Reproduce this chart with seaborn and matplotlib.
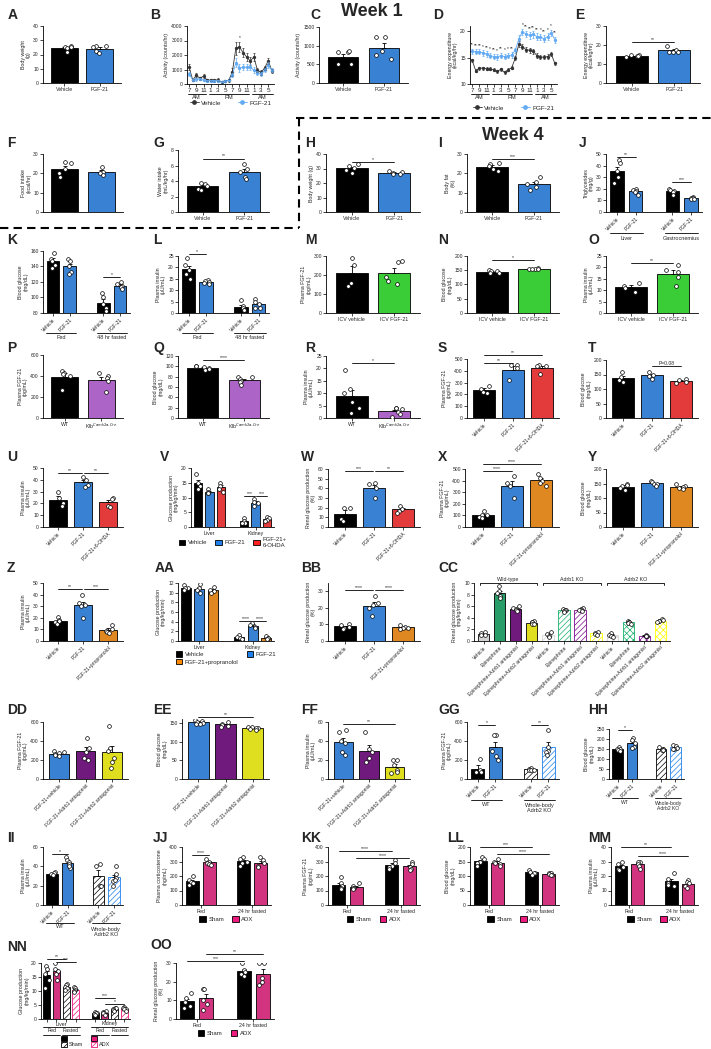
import numpy as np
import pandas as pd
import matplotlib
matplotlib.use("Agg")
import matplotlib.pyplot as plt
import matplotlib.transforms as mtransforms
from matplotlib.patches import Patch
from matplotlib.lines import Line2D
from matplotlib import font_manager
import seaborn as sns

# -------------------
# Data
hour_ticks = ['7', '9', '11', '1', '3', '5', '7', '9', '11', '1', '3', '5']
B_vehicle = [1150, 270, 610, 390, 545, 270, 270, 250, 300, 115, 230, 250,
             820, 2480, 2550, 2160, 1860, 1590, 1860, 950, 800, 1110, 1600, 910]
B_vehicle_se = [200, 80, 150, 100, 120, 80, 80, 80, 90, 60, 80, 80,
                250, 450, 350, 300, 250, 300, 300, 150, 150, 150, 200, 150]
B_fgf = [680, 270, 340, 340, 270, 230, 230, 220, 210, 170, 220, 250,
         600, 1480, 1110, 1160, 1160, 1180, 950, 770, 680, 950, 1300, 950]
B_fgf_se = [150, 60, 100, 80, 80, 60, 60, 50, 50, 40, 50, 60,
            150, 300, 250, 200, 200, 200, 200, 150, 150, 150, 200, 150]
B_stars = ['', '', '', '', '', '', '', '', '', '', '', '',
           '', '', '*', '', '', '', '', '', '', '', '', '']
D_vehicle = [14.5, 12.5, 13.0, 13.0, 12.9, 12.9, 12.7, 12.4, 12.8, 12.2, 12.7, 13.1,
             14.9, 17.6, 17.1, 16.5, 16.4, 16.2, 15.4, 15.1, 15.1, 15.2, 15.7, 13.9]
D_vehicle_se = [0.3, 0.3, 0.3, 0.3, 0.3, 0.3, 0.3, 0.3, 0.3, 0.3, 0.3, 0.3,
                0.4, 0.5, 0.5, 0.5, 0.5, 0.5, 0.5, 0.4, 0.4, 0.4, 0.4, 0.3]
D_fgf = [16.2, 16.1, 16.1, 15.9, 15.7, 15.4, 15.2, 15.1, 15.4, 15.2, 15.4, 15.5,
         16.4, 18.6, 19.9, 19.5, 19.2, 19.4, 19.0, 18.9, 18.6, 19.0, 19.7, 18.4]
D_fgf_se = [0.5, 0.5, 0.5, 0.5, 0.5, 0.5, 0.5, 0.5, 0.5, 0.5, 0.5, 0.5,
            0.5, 0.6, 0.6, 0.6, 0.6, 0.6, 0.6, 0.6, 0.6, 0.6, 0.6, 0.6]
D_stars = ['**', '**', '**', '*', '**', '*', '**', '*', '**', '*', '*', '**',
           '', '', '*', '**', '**', '**', '**', '*', '**', '*', '*', '**']

veh_fgf = ['Vehicle', 'FGF-21']
icv = ['ICV vehicle', 'ICV FGF-21']
wt_klb = ['WT', r'Klb$^{Camk2a\text{-}Cre}$']
ohda = ['Vehicle', 'FGF-21', 'FGF-21+6-OHDA']
prop = ['Vehicle', 'FGF-21', 'FGF-21+propranolol']
cc_labels = ['Vehicle', 'Epinephrine', 'Epinephrine+Adrb1 antagonist',
             'Epinephrine+Adrb2 antagonist']
ant = ['FGF-21+vehicle', 'FGF-21+Adrb1 antagonist', 'FGF-21+Adrb2 antagonist']

A_vals = [[26, 25.5, 25, 24.5, 21.5], [26, 26, 25.5, 22.5, 21]]
C_vals = [[840, 820, 850, 520, 500], [1240, 1230, 870, 760, 650]]
E_vals = [[14.8, 14.5, 14.2, 14.0, 13.8], [19.5, 17.5, 16.5, 16.2, 16.3]]
F_vals = [[26, 25.2, 22.5, 20, 18], [23.5, 20.8, 20.5, 20.2, 19]]
G_vals = [[3.7, 3.6, 3.4, 3.0, 2.8], [6.2, 5.6, 5.2, 4.5, 4.2]]
H_vals = [[33, 31.5, 30.5, 29, 27], [28, 27.5, 27, 26.5, 26.5]]
I_vals = [[25.5, 25, 24, 22, 21], [18, 15.5, 14.5, 13, 11.5]]
J_vals = [[45, 42, 35, 30, 25], [20, 19, 18, 17, 15], None,
          [19.5, 19, 18, 17, 15], [13, 12.5, 12, 11.5, 11]]
K_vals = [[158, 150, 147, 142, 138], [150, 147, 140, 133, 130], None,
          [106, 100, 92, 86, 82], [120, 118, 115, 113, 111]]
L_vals = [[24, 21, 19, 17, 15], [14.5, 14, 13.5, 13, 12.5], None,
          [5.5, 3, 2, 1.5, 1.5], [6, 5, 4, 2, 2]]
M_vals = [[290, 250, 160, 140], [275, 270, 190, 170, 150]]
N_vals = [[150, 148, 146, 142, 140], [158, 156, 155, 154, 153]]
O_vals = [[13, 12, 11, 9], [21, 19, 18, 16, 12]]
P_vals = [[450, 430, 420, 400, 270], [430, 400, 380, 350, 250]]
Q_vals = [[101, 100, 98, 97, 95, 93], [80, 79, 76, 72, 69, 64]]
R_vals = [[19.5, 11.5, 10, 6.5, 4, 2], [4, 4, 3.5, 2.5, 1.5, 0.5]]
S_vals = [[270, 250, 220, 210], [450, 450, 420, 320], [450, 440, 440, 370]]
T_vals = [[160, 140, 130, 125], [160, 150, 145, 135], [135, 130, 125, 120]]
U_vals = [[30, 25, 20, 18], [42, 40, 36, 34], [25, 24, 18, 17]]
V_vals = [[18, 15, 14, 13], [13, 12, 11.5, 11.5], [15, 14, 13, 12], None,
          [3, 2, 1.5, 1.5], [9.5, 8.5, 8, 7], [3.5, 3, 2.5, 2]]
W_vals = [[20, 20, 8, 6], [46, 45, 40, 30], [22, 19, 17, 15]]
X_vals = [[140, 105, 100, 90, 80], [440, 380, 350, 250], [460, 420, 400, 380, 350]]
Y_vals = [[150, 145, 140, 135, 128], [158, 155, 150, 148, 140], [148, 140, 137, 135, 130]]
Z_vals = [[21, 18, 17, 16, 15], [40, 33, 31, 30, 20], [14, 10, 9, 8, 7]]
AA_vals = [[11.5, 11, 11, 10.5], [11.8, 11, 10.5, 10], [11.2, 10.6, 10.3, 10], None,
           [1.2, 0.9, 0.7, 0.5], [3.8, 3.3, 3, 2.7], [1, 0.7, 0.6, 0.5]]
BB_vals = [[10.5, 9.5, 8.5, 8, 7.5], [27, 23, 22, 20, 15], [9.5, 8.5, 8, 7.8, 7.2]]
CC_vals = [[1.5, 1.3, 1.1, 1.0], [9.5, 8.6, 8.3, 7.8, 7.5], [6.0, 5.7, 5.5, 5.3, 5.2],
           [3.5, 3.3, 3.2, 3.0, 2.9],
           [1.6, 1.2, 0.9, 0.7], [5.6, 5.4, 5.3, 5.2, 5.0], [5.7, 5.5, 5.4, 5.3, 5.1],
           [1.6, 1.4, 1.2, 1.0],
           [1.3, 1.1, 0.9, 0.7], [3.4, 3.3, 3.2, 3.1, 3.0], [1.1, 0.9, 0.8, 0.8],
           [3.8, 3.6, 3.5, 3.4, 3.2]]
DD_vals = [[290, 280, 270, 260, 250, 240], [430, 330, 280, 220, 200],
           [560, 330, 300, 220, 180, 120]]
EE_vals = [[158, 155, 152, 150, 148, 147], [152, 148, 145, 142, 140],
           [140, 138, 136, 135, 133, 132]]
FF_vals = [[52, 50, 40, 38, 25, 28], [50, 32, 28, 22, 18], [20, 20, 15, 10, 6, 7]]
GG_vals = [[210, 90, 70, 70], [460, 460, 300, 240, 200], None,
           [120, 110, 100, 95, 90], [520, 340, 300, 280, 250]]
HH_vals = [[160, 150, 148, 145, 140], [205, 195, 180, 160, 155], None,
           [158, 152, 150, 145, 145], [168, 165, 157, 150, 148]]
II_vals = [[34, 33, 32, 31], [50, 47, 44, 42, 38, 40], None,
           [42, 40, 20, 20], [40, 32, 28, 25, 20, 26]]
JJ_vals = [[200, 170, 160, 150, 135], [320, 300, 290, 285, 275], None,
           [330, 320, 300, 290, 270], [330, 310, 290, 270, 260]]
KK_vals = [[190, 150, 130, 120, 110], [150, 130, 120, 115, 110], None,
           [310, 290, 270, 260, 250], [300, 280, 260, 250, 240]]
LL_vals = [[165, 160, 150, 145, 135], [160, 150, 145, 140, 135], None,
           [120, 115, 112, 110, 105], [112, 110, 107, 105, 103]]
MM_vals = [[30, 28, 26, 25, 24], [30, 30, 28, 27, 25], None,
           [22, 18, 15, 14, 13], [17, 16, 15, 13, 12]]
NN_vals = [[19, 18, 16, 14, 11], [20, 18, 17, 16, 14], [12.5, 12, 11.5, 11, 10.5],
           [11.5, 11, 10.5, 10, 9.5], None,
           [2.5, 2.2, 2, 1.8, 1.5], [3, 2.5, 2, 2, 1.5], [4, 3.8, 3.5, 3.2, 3],
           [4.2, 3.8, 3.6, 3.4, 3]]
OO_vals = [[14, 11, 9, 7, 6], [16, 16, 10, 8, 5], None,
           [30, 26, 25, 24, 23], [30, 30, 22, 20, 18]]

# -------------------
# Style
sns.set_style("ticks")
fnames = {f.name for f in font_manager.fontManager.ttflist}
narrow = 'Liberation Sans Narrow' if 'Liberation Sans Narrow' in fnames else 'Liberation Sans'
plt.rcParams['font.family'] = ['Liberation Sans', 'DejaVu Sans']
plt.rcParams['axes.linewidth'] = 0.6
plt.rcParams['hatch.linewidth'] = 0.5
plt.rcParams['axes.edgecolor'] = 'black'
np.random.seed(4)

BLACK = '#000000'
BLUE = '#1f80ec'
LBLUE = '#62aaf4'
GREEN = '#22e61f'
PURP = '#b355d6'
RED = '#ff1f1f'
ORNG = '#ff8a00'
PINK = '#ec1a7f'
GRAY = '#d4d4d4'
EGRN = '#16b06a'
DPURP = '#7d0a8e'
YEL = '#ffff00'

W, H = 711, 1049
fig = plt.figure(figsize=(W / 100, H / 100), dpi=100)


def new_panel(label, lx, ly, box):
    x0, y0, x1, y1 = box
    ax = fig.add_axes([x0 / W, 1 - y1 / H, (x1 - x0) / W, (y1 - y0) / H])
    fig.text(lx / W, 1 - ly / H, label, fontsize=10, fontweight='bold',
             family=narrow, ha='left', va='center')
    return ax


def style(ax, ylim, yticks, ylabel):
    ax.set_ylim(*ylim)
    ax.set_yticks(yticks)
    ax.set_ylabel(ylabel, fontsize=3.8, labelpad=1.5, linespacing=1.1)
    ax.set_xlabel('')
    sns.despine(ax=ax)
    ax.tick_params(axis='both', length=2, width=0.6, labelsize=3.6, pad=1)


def bar_panel(ax, vals, colors, ylim, yticks, ylabel, xlabels=None, xticks=None,
              rot=0, hatches=None, width=0.75):
    cats = [f"b{i}" for i in range(len(vals))]
    rows = [(cats[i], v) for i, g in enumerate(vals) if g is not None for v in g]
    df = pd.DataFrame(rows, columns=['cat', 'val'])
    present = [c for c, g in zip(cats, vals) if g is not None]
    pal = {cats[i]: colors[i] for i in range(len(vals)) if vals[i] is not None}
    sns.barplot(data=df, x='cat', y='val', hue='cat', order=cats, hue_order=present,
                palette=pal, errorbar=None, width=width, edgecolor='k', linewidth=0.6,
                legend=False, ax=ax, zorder=2)
    if hatches:
        for p in ax.patches:
            i = int(round(p.get_x() + p.get_width() / 2))
            if hatches[i]:
                p.set_facecolor('white')
                p.set_edgecolor(colors[i])
                p.set_hatch(hatches[i])
    stats = df.groupby('cat')['val'].agg(['mean', 'sem'])
    for c in present:
        m, s = stats.loc[c, 'mean'], stats.loc[c, 'sem']
        ax.errorbar(cats.index(c), m, yerr=[[0], [s]], fmt='none', ecolor='k',
                    elinewidth=0.6, capsize=1.6, capthick=0.6, zorder=3)
    sns.stripplot(data=df, x='cat', y='val', order=cats, color='white', edgecolor='black',
                  linewidth=0.5, size=2.7, jitter=0.2, ax=ax, zorder=4)
    ax.set_xlim(-0.6, len(vals) - 0.4)
    style(ax, ylim, yticks, ylabel)
    if xlabels is None:
        ax.set_xticks([])
    else:
        if xticks is None:
            xticks = [i for i in range(len(vals)) if vals[i] is not None]
        ax.set_xticks(xticks)
        if rot:
            ax.set_xticklabels(xlabels, rotation=rot, ha='right', rotation_mode='anchor',
                               fontsize=3.6)
        else:
            ax.set_xticklabels(xlabels, fontsize=3.8)


def sig(ax, x0, x1, y, txt):
    ax.plot([x0, x1], [y, y], color='k', lw=0.6, clip_on=False)
    ax.text((x0 + x1) / 2, y, txt, ha='center', va='bottom', fontsize=3.6, clip_on=False)


def under(ax, x0, x1, txt, dy_line, dy_txt, fs=4.0):
    trans = mtransforms.blended_transform_factory(ax.transData, ax.transAxes)
    h = ax.get_position().height * H
    if dy_line is not None:
        ax.plot([x0, x1], [-dy_line / h] * 2, transform=trans, color='k', lw=0.6,
                clip_on=False)
    ax.text((x0 + x1) / 2, -dy_txt / h, txt, transform=trans, ha='center', va='center',
            fontsize=fs, linespacing=1.1)


def bracket(ax, x0, x1, y, txt, tick):
    ax.plot([x0, x0, x1, x1], [y - tick, y, y, y - tick], color='k', lw=0.6, clip_on=False)
    ax.text((x0 + x1) / 2, y + tick * 0.6, txt, ha='center', va='bottom', fontsize=3.8)


def sq_legend(ax, labels, handles, dy_px, ncol, fs=4.3, hh=1.1, ls=0.3):
    h = ax.get_position().height * H
    ax.legend(handles, labels, loc='upper center', bbox_to_anchor=(0.5, -dy_px / h),
              ncol=ncol, frameon=False, fontsize=fs, handlelength=1.1, handleheight=hh,
              columnspacing=1.4, handletextpad=0.4, borderaxespad=0, borderpad=0,
              labelspacing=ls)


def sq(c, hatch=None):
    if hatch:
        return Patch(facecolor='white', edgecolor=c, hatch=hatch, lw=0.6)
    return Patch(facecolor=c, edgecolor='k', lw=0.6)


def line_panel(ax, veh, veh_se, fgf, fgf_se, stars_y, stars, ylim, yticks, ylabel, leg_dy):
    x = np.arange(len(veh))
    df = pd.DataFrame({'hour': np.concatenate([x, x]), 'val': veh + fgf,
                       'grp': ['Vehicle'] * len(veh) + ['FGF-21'] * len(fgf)})
    sns.lineplot(data=df, x='hour', y='val', hue='grp',
                 palette={'Vehicle': '#333333', 'FGF-21': LBLUE}, marker='o',
                 markersize=2.4, markeredgewidth=0, linewidth=0.6, ax=ax, legend=False)
    ax.errorbar(x, veh, yerr=veh_se, fmt='none', ecolor='#333333', elinewidth=0.5,
                capsize=1, capthick=0.5)
    ax.errorbar(x, fgf, yerr=fgf_se, fmt='none', ecolor=LBLUE, elinewidth=0.5,
                capsize=1, capthick=0.5)
    for i, s in enumerate(stars):
        if s:
            ax.text(i, stars_y[i], s, ha='center', va='bottom', fontsize=3.4)
    ax.set_xlim(-0.6, len(veh) - 0.4)
    style(ax, ylim, yticks, ylabel)
    ax.set_xticks(range(0, len(veh), 2))
    ax.set_xticklabels(hour_ticks, fontsize=4.6)
    under(ax, -0.4, 4.6, 'AM', 10, 13.5, fs=4.2)
    under(ax, 5.4, 16.6, 'PM', 10, 13.5, fs=4.2)
    under(ax, 17.4, 23.4, 'AM', 10, 13.5, fs=4.2)
    hl = [Line2D([], [], color='#333333', marker='o', ms=2.4, lw=0.6),
          Line2D([], [], color=LBLUE, marker='o', ms=2.4, lw=0.6)]
    h = ax.get_position().height * H
    ax.legend(hl, ['Vehicle', 'FGF-21'], loc='center', bbox_to_anchor=(0.5, -leg_dy / h),
              ncol=2, frameon=False, fontsize=4.6, handlelength=1.4, columnspacing=2.5,
              handletextpad=0.4, borderaxespad=0)


# -------------------
# Week 1
ax = new_panel('A', 8, 15, (43, 26, 121, 83))
bar_panel(ax, A_vals, [BLACK, BLUE], (0, 40), [0, 10, 20, 30, 40], 'Body weight\n(g)', veh_fgf)

ax = new_panel('B', 150, 15, (187, 26, 274, 84))
by = [max(a + b, c + d) + 120 for a, b, c, d in zip(B_vehicle, B_vehicle_se, B_fgf, B_fgf_se)]
line_panel(ax, B_vehicle, B_vehicle_se, B_fgf, B_fgf_se, by, B_stars, (0, 4000),
           [0, 1000, 2000, 3000, 4000], 'Activity (counts/hr)', 19)

ax = new_panel('C', 310, 15, (319, 27, 408, 83))
bar_panel(ax, C_vals, [BLACK, BLUE], (0, 1500), [0, 500, 1000, 1500],
          'Activity (counts/hr)', veh_fgf)

ax = new_panel('D', 433, 15, (470, 26, 557, 84))
dy = [max(a + b, c + d) + 0.3 for a, b, c, d in zip(D_vehicle, D_vehicle_se, D_fgf, D_fgf_se)]
line_panel(ax, D_vehicle, D_vehicle_se, D_fgf, D_fgf_se, dy, D_stars, (10, 21),
           [10, 15, 20], 'Energy expenditure\n(kcal/kg/hr)', 24)

ax = new_panel('E', 575, 15, (606, 26, 700, 83))
bar_panel(ax, E_vals, [BLACK, BLUE], (0, 30), [0, 10, 20, 30],
          'Energy expenditure\n(kcal/kg/hr)', veh_fgf)
sig(ax, 0, 1, 21.5, '**')

ax = new_panel('F', 7, 143, (43, 154, 123, 212))
bar_panel(ax, F_vals, [BLACK, BLUE], (0, 30), [0, 10, 20, 30], 'Food intake\n(kcal/hr)')

ax = new_panel('G', 153, 143, (178, 150, 269, 212))
bar_panel(ax, G_vals, [BLACK, BLUE], (0, 8), [0, 2, 4, 6, 8], 'Water intake\n(mL/kg/hr)',
          veh_fgf)
sig(ax, 0, 1, 6.9, '**')

# -------------------
# Week 4
ax = new_panel('H', 305, 143, (326, 154, 420, 212))
bar_panel(ax, H_vals, [BLACK, BLUE], (0, 40), [0, 10, 20, 30, 40], 'Body weight (g)', veh_fgf)
sig(ax, 0, 1, 34.5, '*')

ax = new_panel('I', 438, 143, (467, 154, 559, 212))
bar_panel(ax, I_vals, [BLACK, BLUE], (0, 30), [0, 10, 20, 30], 'Body fat\n(%)', veh_fgf)
sig(ax, 0, 1, 27.5, '***')

ax = new_panel('J', 579, 143, (606, 154, 702, 212))
bar_panel(ax, J_vals, [BLACK, BLUE, None, BLACK, BLUE], (0, 50), [0, 10, 20, 30, 40, 50],
          'Triglycerides\n(mg/g)', veh_fgf * 2, rot=45)
sig(ax, 0, 1, 47, '**')
sig(ax, 3, 4, 26, '***')
under(ax, -0.4, 1.4, 'Liver', 21, 26)
under(ax, 2.6, 4.4, 'Gastrocnemius', 21, 26)

ax = new_panel('K', 7, 240, (43, 251, 130, 313))
bar_panel(ax, K_vals, [BLACK, BLUE, None, BLACK, BLUE], (80, 160), [80, 100, 120, 140, 160],
          'Blood glucose\n(mg/dL)', veh_fgf * 2, rot=45)
sig(ax, 3, 4, 127, '*')
under(ax, -0.4, 1.4, 'Fed', 20, 25)
under(ax, 2.6, 4.4, '48 hr fasted', 20, 25)

ax = new_panel('L', 153, 240, (178, 256, 269, 313))
bar_panel(ax, L_vals, [BLACK, BLUE, None, BLACK, BLUE], (0, 25), [0, 5, 10, 15, 20, 25],
          'Plasma insulin\n(μU/mL)', veh_fgf * 2, rot=45)
sig(ax, 0, 1, 26, '*')
under(ax, -0.4, 1.4, 'Fed', 20, 25)
under(ax, 2.6, 4.4, '48 hr fasted', 20, 25)

ax = new_panel('M', 305, 240, (326, 256, 420, 313))
bar_panel(ax, M_vals, [BLACK, GREEN], (0, 300), [0, 100, 200, 300],
          'Plasma FGF-21\n(pg/mL)', icv)

ax = new_panel('N', 438, 240, (467, 256, 559, 313))
bar_panel(ax, N_vals, [BLACK, GREEN], (0, 200), [0, 50, 100, 150, 200],
          'Blood glucose\n(mg/dL)', icv)
sig(ax, 0, 1, 185, '*')

ax = new_panel('O', 588, 240, (606, 256, 698, 313))
bar_panel(ax, O_vals, [BLACK, GREEN], (0, 25), [0, 5, 10, 15, 20, 25],
          'Plasma insulin\n(μU/mL)', icv)
sig(ax, 0, 1, 22, '**')

ax = new_panel('P', 7, 348, (43, 355, 123, 418))
bar_panel(ax, P_vals, [BLACK, PURP], (0, 600), [0, 200, 400, 600],
          'Plasma FGF-21\n(pg/mL)', wt_klb)

ax = new_panel('Q', 153, 348, (178, 356, 269, 418))
bar_panel(ax, Q_vals, [BLACK, PURP], (0, 120), [0, 20, 40, 60, 80, 100, 120],
          'Blood glucose\n(mg/dL)', wt_klb)
sig(ax, 0, 1, 112, '****')

ax = new_panel('R', 305, 348, (326, 356, 420, 418))
bar_panel(ax, R_vals, [BLACK, PURP], (0, 25), [0, 5, 10, 15, 20, 25],
          'Plasma insulin\n(μU/mL)', wt_klb)
sig(ax, 0, 1, 22, '*')

ax = new_panel('S', 438, 348, (467, 359, 559, 418))
bar_panel(ax, S_vals, [BLACK, BLUE, RED], (0, 500), [0, 100, 200, 300, 400, 500],
          'Plasma FGF-21\n(pg/mL)', ohda, rot=45)
sig(ax, 0, 1, 470, '**')
sig(ax, 0, 2, 530, '**')

ax = new_panel('T', 588, 348, (606, 360, 698, 418))
bar_panel(ax, T_vals, [BLACK, BLUE, RED], (0, 200), [0, 50, 100, 150, 200],
          'Blood glucose\n(mg/dL)', ohda, rot=45)
sig(ax, 1, 2, 178, 'P=0.08')

ax = new_panel('U', 7, 457, (43, 468, 123, 527))
bar_panel(ax, U_vals, [BLACK, BLUE, RED], (0, 50), [0, 10, 20, 30, 40, 50],
          'Plasma insulin\n(μU/mL)', ohda, rot=45)
sig(ax, 0, 0.95, 46, '**')
sig(ax, 1.05, 2, 46, '**')

ax = new_panel('V', 160, 457, (191, 468, 274, 527))
bar_panel(ax, V_vals, [BLACK, BLUE, RED, None, BLACK, BLUE, RED], (0, 20), [0, 5, 10, 15, 20],
          'Glucose production\n(mg/kg/min)', ['Liver', 'Kidney'], xticks=[1, 5])
sig(ax, 4, 4.95, 10.5, '***')
sig(ax, 5.05, 6, 10.5, '***')
sq_legend(ax, ['Vehicle', 'FGF-21', 'FGF-21+\n6-OHDA'], [sq(BLACK), sq(BLUE), sq(RED)], 10, 3)

ax = new_panel('W', 301, 457, (328, 469, 420, 527))
bar_panel(ax, W_vals, [BLACK, BLUE, RED], (0, 60), [0, 10, 20, 30, 40, 50, 60],
          'Renal glucose production\n(%)', ohda, rot=45)
sig(ax, 0, 0.95, 58, '***')
sig(ax, 1.05, 2, 58, '**')

ax = new_panel('X', 438, 457, (465, 469, 559, 527))
bar_panel(ax, X_vals, [BLACK, BLUE, ORNG], (0, 500), [0, 100, 200, 300, 400, 500],
          'Plasma FGF-21\n(pg/mL)', prop, rot=45)
sig(ax, 0, 1, 480, '****')
sig(ax, 0, 2, 540, '****')

ax = new_panel('Y', 588, 457, (606, 469, 698, 527))
bar_panel(ax, Y_vals, [BLACK, BLUE, ORNG], (0, 200), [0, 50, 100, 150, 200],
          'Blood glucose\n(mg/dL)', prop, rot=45)

ax = new_panel('Z', 7, 568, (43, 583, 123, 641))
bar_panel(ax, Z_vals, [BLACK, BLUE, ORNG], (0, 50), [0, 10, 20, 30, 40, 50],
          'Plasma insulin\n(μU/mL)', prop, rot=45)
sig(ax, 0, 0.95, 45, '**')
sig(ax, 1.05, 2, 45, '***')

ax = new_panel('AA', 155, 568, (178, 583, 274, 641))
bar_panel(ax, AA_vals, [BLACK, BLUE, ORNG, None, BLACK, BLUE, ORNG], (0, 12),
          [0, 2, 4, 6, 8, 10, 12], 'Glucose production\n(mg/kg/min)', ['Liver', 'Kidney'],
          xticks=[1, 5])
sig(ax, 4, 4.95, 4.2, '****')
sig(ax, 5.05, 6, 4.2, '****')
sq_legend(ax, ['Vehicle', 'FGF-21+propranolol', 'FGF-21'],
          [sq(BLACK), sq(ORNG), sq(BLUE)], 10, 2)

ax = new_panel('BB', 301, 568, (328, 583, 420, 641))
bar_panel(ax, BB_vals, [BLACK, BLUE, ORNG], (0, 35), [0, 10, 20, 30],
          'Renal glucose production\n(%)', prop, rot=45)
sig(ax, 0, 0.95, 31, '****')
sig(ax, 1.05, 2, 31, '****')

ax = new_panel('CC', 438, 568, (474, 583, 670, 641))
cc_colors = [GRAY, EGRN, DPURP, YEL] * 3
cc_hatch = [None] * 4 + ['//////'] * 4 + ['xxxxx'] * 4
bar_panel(ax, CC_vals, cc_colors, (0, 10), [0, 2, 4, 6, 8, 10],
          'Renal glucose production\n(mg/kg/min)', cc_labels * 3, rot=45, hatches=cc_hatch,
          width=0.7)
bracket(ax, -0.2, 3.3, 10, 'Wild-type', 0.4)
bracket(ax, 3.7, 7.3, 10, 'Adrb1 KO', 0.4)
bracket(ax, 7.7, 11.2, 10, 'Adrb2 KO', 0.4)

ax = new_panel('DD', 7, 710, (43, 722, 128, 779))
bar_panel(ax, DD_vals, [BLUE, DPURP, YEL], (0, 600), [0, 200, 400, 600],
          'Plasma FGF-21\n(pg/mL)', ant, rot=45)

ax = new_panel('EE', 153, 710, (182, 719, 269, 779))
bar_panel(ax, EE_vals, [BLUE, DPURP, YEL], (0, 160), [0, 50, 100, 150],
          'Blood glucose\n(mg/dL)', ant, rot=45)
sig(ax, 0, 2, 165, '**')

ax = new_panel('FF', 301, 710, (328, 722, 410, 779))
bar_panel(ax, FF_vals, [BLUE, DPURP, YEL], (0, 60), [0, 20, 40, 60],
          'Plasma insulin\n(μU/mL)', ant, rot=45)
sig(ax, 0, 2, 58, '**')

ko_colors = [BLACK, BLUE, None, BLACK, BLUE]
ko_hatch = [None, None, None, '//////', '//////']

ax = new_panel('GG', 438, 710, (467, 722, 559, 779))
bar_panel(ax, GG_vals, ko_colors, (0, 600), [0, 200, 400, 600], 'Plasma FGF-21\n(pg/mL)',
          veh_fgf * 2, rot=45, hatches=ko_hatch)
sig(ax, 0, 1, 570, '*')
sig(ax, 3, 4, 570, '**')
under(ax, -0.4, 1.4, 'WT', 21, 25)
under(ax, 2.6, 4.4, 'Whole-body\nAdrb2 KO', 21, 29)

ax = new_panel('HH', 588, 710, (609, 729, 684, 779))
bar_panel(ax, HH_vals, ko_colors, (0, 250), [0, 50, 100, 150, 200, 250],
          'Blood glucose\n(mg/dL)', veh_fgf * 2, rot=45, hatches=ko_hatch)
sig(ax, 0, 1, 245, '*')
under(ax, -0.4, 1.4, 'WT', 19, 23, fs=3.6)
under(ax, 2.6, 4.4, 'Whole-body\nAdrb2 KO', 19, 27, fs=3.6)

ax = new_panel('II', 7, 838, (43, 847, 123, 905))
bar_panel(ax, II_vals, ko_colors, (0, 60), [0, 20, 40, 60], 'Plasma insulin\n(μU/mL)',
          veh_fgf * 2, rot=45, hatches=ko_hatch)
sig(ax, 0, 1, 53, '*')
under(ax, -0.4, 1.4, 'WT', 18, 22)
under(ax, 2.6, 4.4, 'Whole-body\nAdrb2 KO', 18, 27)

adx_colors = [BLACK, PINK, None, BLACK, PINK]
fed_fast = ['Fed', '24 hr fasted']
adx_handles = [sq(BLACK), sq(PINK)]

ax = new_panel('JJ', 153, 838, (182, 847, 271, 905))
bar_panel(ax, JJ_vals, adx_colors, (0, 400), [0, 100, 200, 300, 400],
          'Plasma corticosterone\n(ng/mL)', fed_fast, xticks=[0.5, 3.5])
sig(ax, 0, 1, 345, '****')
sq_legend(ax, ['Sham', 'ADX'], adx_handles, 11, 2)

ax = new_panel('KK', 301, 838, (328, 847, 420, 905))
bar_panel(ax, KK_vals, adx_colors, (0, 400), [0, 100, 200, 300, 400],
          'Plasma FGF-21\n(pg/mL)', fed_fast, xticks=[0.5, 3.5])
sig(ax, 0, 3, 370, '****')
sig(ax, 1, 4, 325, '****')
sq_legend(ax, ['Sham', 'ADX'], adx_handles, 11, 2)

ax = new_panel('LL', 447, 838, (470, 847, 559, 905))
bar_panel(ax, LL_vals, adx_colors, (0, 200), [0, 50, 100, 150, 200],
          'Blood glucose\n(mg/dL)', fed_fast, xticks=[0.5, 3.5])
sig(ax, 0, 3, 200, '***')
sig(ax, 1, 4, 175, '****')
sq_legend(ax, ['Sham', 'ADX'], adx_handles, 11, 2)

ax = new_panel('MM', 588, 838, (611, 847, 698, 905))
bar_panel(ax, MM_vals, adx_colors, (0, 40), [0, 10, 20, 30, 40],
          'Plasma insulin\n(μU/mL)', fed_fast, xticks=[0.5, 3.5])
sig(ax, 0, 3, 40, '**')
sig(ax, 1, 4, 34, '****')
sq_legend(ax, ['Sham', 'ADX'], adx_handles, 11, 2)

ax = new_panel('NN', 7, 947, (41, 963, 130, 1019))
nn_colors = [BLACK, PINK, BLACK, PINK, None, BLACK, PINK, BLACK, PINK]
nn_hatch = [None, None, '//////', '//////', None, None, None, '//////', '//////']
bar_panel(ax, NN_vals, nn_colors, (0, 20), [0, 5, 10, 15, 20],
          'Glucose production\n(mg/kg/min)', hatches=nn_hatch)
ax.set_xticks([0, 1, 2, 3, 5, 6, 7, 8])
ax.set_xticklabels([])
sig(ax, 0, 2, 21.5, '**')
sig(ax, 1, 3, 20.3, '***')
sig(ax, 5, 7, 7.5, '***')
sig(ax, 6, 8, 5.5, '*')
under(ax, -0.4, 3.4, 'Liver', 8, 5, fs=3.8)
under(ax, 4.6, 8.4, 'Kidney', 8, 5, fs=3.8)
under(ax, -0.4, 1.4, 'Fed', 15.5, 11.5, fs=3.8)
under(ax, 1.6, 3.4, 'Fasted', 15.5, 11.5, fs=3.8)
under(ax, 4.6, 6.4, 'Fed', 15.5, 11.5, fs=3.8)
under(ax, 6.6, 8.4, 'Fasted', 15.5, 11.5, fs=3.8)
sq_legend(ax, ['', 'Sham', '', 'ADX'],
          [sq(BLACK), sq('k', '//////'), sq(PINK), sq(PINK, '//////')], 17, 2,
          fs=4.0, hh=0.9, ls=0.15)

ax = new_panel('OO', 150, 945, (176, 963, 274, 1019))
bar_panel(ax, OO_vals, adx_colors, (0, 30), [0, 10, 20, 30],
          'Renal glucose production\n(%)', fed_fast, xticks=[0.5, 3.5])
sig(ax, 0, 3, 31, '***')
sig(ax, 1, 4, 35, '**')
sq_legend(ax, ['Sham', 'ADX'], adx_handles, 11, 2)

# -------------------
# Titles and dashed separators
fig.text(372 / W, 1 - 11 / H, 'Week 1', ha='center', va='center', fontsize=13,
         fontweight='bold', family=narrow)
fig.text(513 / W, 1 - 136 / H, 'Week 4', ha='center', va='center', fontsize=13,
         fontweight='bold', family=narrow)
for (xa, ya), (xb, yb) in [((296, 118), (711, 118)), ((299, 118), (299, 228)),
                           ((0, 228), (299, 228))]:
    fig.add_artist(Line2D([xa / W, xb / W], [1 - ya / H, 1 - yb / H], color='k', lw=1.5,
                          dashes=(4, 2.5), transform=fig.transFigure))

fig.savefig('out.png', dpi=100)
